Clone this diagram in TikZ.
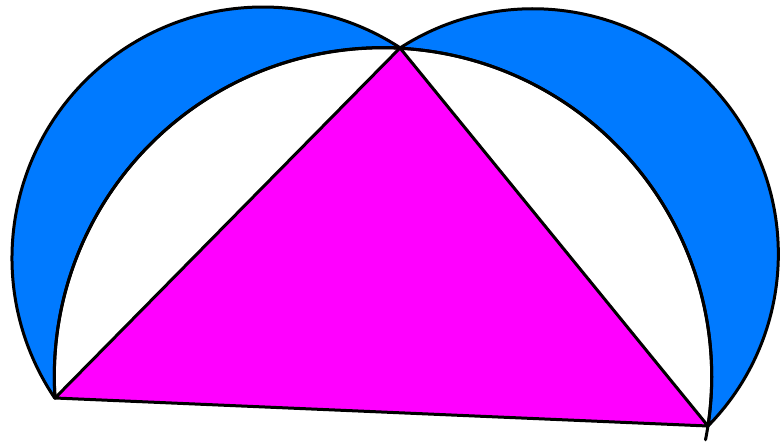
\documentclass[tikz,border=0pt]{standalone}
\definecolor{luneblue}{RGB}{0,122,255}
\definecolor{trimag}{RGB}{255,0,255}
\begin{document}
\begin{tikzpicture}[x=1pt,y=-1pt,
  outline/.style={draw=black,line width=3pt,line join=round,line cap=round}]
\useasboundingbox (0,0) rectangle (780,442);
\coordinate (A) at (55,398);
\coordinate (B) at (708,426);
\coordinate (C) at (400,48);
\coordinate (L) at (263,258);
% left lune
\filldraw[fill=luneblue,outline] (L) ++(146.06:251)
  arc[start angle=146.06,end angle=303.12,radius=251] -- (C)
  arc[start angle=272.96,end angle=176.25,radius=328.7] -- cycle;
% right lune
\filldraw[fill=luneblue,outline] (C)
  arc[start angle=237.15,end angle=404.5,radius=245.3] -- (B)
  arc[start angle=368.66,end angle=272.96,radius=328.7] -- cycle;
% inner arc (circle through A, C, B)
\draw[outline] (A) arc[start angle=176.25,end angle=371.1,radius=328.7];
% triangle
\filldraw[fill=trimag,outline] (A) -- (B) -- (C) -- cycle;
\end{tikzpicture}
\end{document}
